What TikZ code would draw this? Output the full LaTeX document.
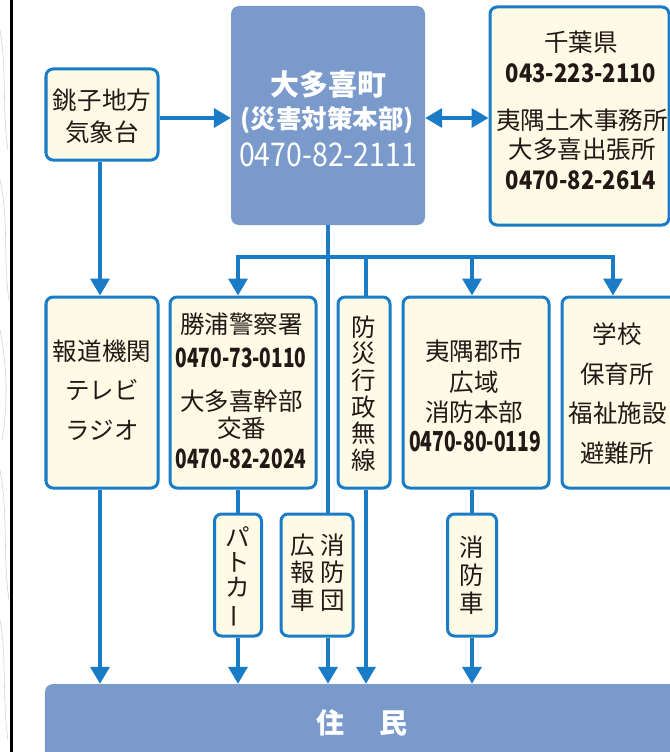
\documentclass[tikz,border=0pt]{standalone}
\usepackage{fontspec}
\usepackage{graphicx}
\setmainfont{Noto Sans CJK JP}
\usetikzlibrary{arrows.meta,calc}
\definecolor{lineblue}{HTML}{1A7CC6}
\definecolor{hqblue}{HTML}{7A9ACB}
\definecolor{cream}{HTML}{FDFAE6}
\definecolor{inkc}{HTML}{231815}
\newcommand\jpt{\fontsize{24.5bp}{24.5bp}\selectfont}
\newcommand\cnum[3]{{\fontsize{#2bp}{#2bp}\selectfont\bfseries\scalebox{#1}[1]{#3}}}
\newcommand\vbar{\rotatebox[origin=c]{90}{ー}}
\begin{document}
\begin{tikzpicture}[x=1bp,y=-1bp,
  cbox/.style={draw=lineblue, line width=3bp, fill=cream, rounded corners=7bp, inner sep=0pt},
  hqbox/.style={fill=hqblue, rounded corners=8bp, inner sep=0pt},
  txt/.style={inner sep=0pt, text=inkc, font=\jpt},
  wtxt/.style={inner sep=0pt, text=white},
  vtxt/.style={inner sep=0pt, text=inkc, align=center},
  conn/.style={draw=lineblue, line width=3.6bp},
  arr/.style={conn, -{Triangle[width=19bp,length=17bp]}},
  darr/.style={conn, {Triangle[width=19bp,length=17bp]}-{Triangle[width=19bp,length=17bp]}}
]
\useasboundingbox (0,0) rectangle (670,752);
% left margin map edge
\begin{scope}[gray!35, line width=0.6bp]
\draw (0,30) .. controls (7,70) and (2,110) .. (8,150);
\draw (0,180) .. controls (9,220) and (3,260) .. (9,300);
\draw (0,330) .. controls (6,360) and (9,400) .. (2,440);
\draw (0,470) .. controls (8,510) and (3,560) .. (9,600);
\draw (0,620) .. controls (7,660) and (2,700) .. (8,740);
\end{scope}
\draw[black, line width=3bp] (11.7,0) -- (11.7,752);

% boxes
\node[cbox, minimum width=112bp, minimum height=91bp] (choshi) at (102,114.5) {};
\node[hqbox, minimum width=194bp, minimum height=219bp] (hq) at (328,115.5) {};
\node[cbox, minimum width=179bp, minimum height=218bp] (chiba) at (579.5,116) {};
\node[cbox, minimum width=112bp, minimum height=191bp] (hodo) at (102,392.5) {};
\node[cbox, minimum width=146bp, minimum height=191bp] (police) at (243,392.5) {};
\node[cbox, minimum width=52bp, minimum height=191bp] (bousai) at (364,392.5) {};
\node[cbox, minimum width=146bp, minimum height=191bp] (fire) at (476,392.5) {};
\node[cbox, minimum width=120bp, minimum height=191bp] (school) at (622,392.5) {};
\node[cbox, minimum width=47bp, minimum height=122bp] (patrol) at (238,575) {};
\node[cbox, minimum width=72bp, minimum height=122bp] (dan) at (317,575) {};
\node[cbox, minimum width=49bp, minimum height=122bp] (truck) at (472,575) {};
\node[hqbox, minimum width=655bp, minimum height=116bp] (jumin) at (372.5,742) {};

% texts
\node[txt] (choshi1) at (102,100) {銚子地方};
\node[txt] (choshi2) at (102,132) {気象台};

\node[wtxt, font=\fontsize{29bp}{29bp}\selectfont\bfseries] (hq1) at (328,84) {大多喜町};
\node[wtxt, font=\fontsize{25.5bp}{25.5bp}\selectfont\bfseries] (hq2) at (327,120) {(災害対策本部)};
\node[wtxt] (hq3) at (328,155) {\fontsize{32.7bp}{32.7bp}\selectfont\scalebox{0.87}[1]{0470-82-2111}};

\node[txt] (chiba1) at (581,42) {千葉県};
\node[txt, text=inkc] (chiba2) at (581,73.5) {\cnum{0.86}{25.5}{043-223-2110}};
\node[txt] (chiba3) at (582,120) {夷隅土木事務所};
\node[txt] (chiba4) at (582,149) {大多喜出張所};
\node[txt] (chiba5) at (581,180) {\cnum{0.86}{25.5}{0470-82-2614}};

\node[txt] (hodo1) at (102,351) {報道機関};
\node[txt] (hodo2) at (102,390) {テレビ};
\node[txt] (hodo3) at (102,430) {ラジオ};

\node[txt] (pol1) at (241.5,324) {勝浦警察署};
\node[txt] (pol2) at (241,357.5) {\cnum{0.72}{26.5}{0470-73-0110}};
\node[txt] (pol3) at (241.5,401) {大多喜幹部};
\node[txt] (pol4) at (241.5,428) {交番};
\node[txt] (pol5) at (241,459) {\cnum{0.72}{26.5}{0470-82-2024}};

\node[vtxt, font=\fontsize{24.5bp}{26.6bp}\selectfont] (bousait) at (364,393.5) {防\\災\\行\\政\\無\\線};

\node[txt] (fire1) at (474,351) {夷隅郡市};
\node[txt] (fire2) at (474,382) {広域};
\node[txt] (fire3) at (474,412) {消防本部};
\node[txt] (fire4) at (475,442) {\cnum{0.7}{27.5}{0470-80-0119}};

\node[txt] (sch1) at (617,334) {学校};
\node[txt] (sch2) at (617,374) {保育所};
\node[txt] (sch3) at (617.5,413) {福祉施設};
\node[txt] (sch4) at (617,453) {避難所};

\node[vtxt, font=\fontsize{24.5bp}{25bp}\selectfont] (patrolt) at (238,577.5) {パ\\ト\\カ\\\vbar};
\node[vtxt, font=\fontsize{24.5bp}{27.5bp}\selectfont] (dant1) at (333,572.5) {消\\防\\団};
\node[vtxt, font=\fontsize{24.5bp}{27.5bp}\selectfont] (dant2) at (303,572.5) {広\\報\\車};
\node[vtxt, font=\fontsize{24.5bp}{28bp}\selectfont] (truckt) at (472,575) {消\\防\\車};

\node[wtxt, font=\fontsize{28bp}{28bp}\selectfont\bfseries] (jumint) at (362,723) {住\hspace{35bp}民};

% connectors
\coordinate (b1) at (238,257);
\coordinate (b2) at (366,257);
\coordinate (b3) at (472,257);
\coordinate (b4) at (613,257);
\coordinate (bh) at (hq.south |- b1);

\draw[arr] (choshi.east |- 0,118) -- (hq.west |- 0,118);
\draw[darr] (hq.east |- 0,118) -- (chiba.west |- 0,118);
\draw[arr] (choshi.south -| 100,0) -- (hodo.north -| 100,0);
\draw[arr] (hodo.south -| 100,0) -- (jumin.north -| 100,0);

\draw[conn] (hq.south) -- (hq.south |- dan.north);
\draw[arr] (bh) -- (b1) -- (b1 |- police.north);
\draw[arr] (bh) -- (b4) -- (b4 |- school.north);
\draw[conn] (b2) -- (b2 |- bousai.north);
\draw[arr] (b3) -- (b3 |- fire.north);

\draw[conn] (patrol.north |- police.south) -- (patrol.north);
\draw[arr] (patrol.south) -- (patrol.south |- jumin.north);
\draw[arr] (hq.south |- dan.south) -- (hq.south |- jumin.north);
\draw[arr] (b2 |- bousai.south) -- (b2 |- jumin.north);
\draw[conn] (truck.north |- fire.south) -- (truck.north);
\draw[arr] (truck.south) -- (truck.south |- jumin.north);
\end{tikzpicture}
\end{document}
